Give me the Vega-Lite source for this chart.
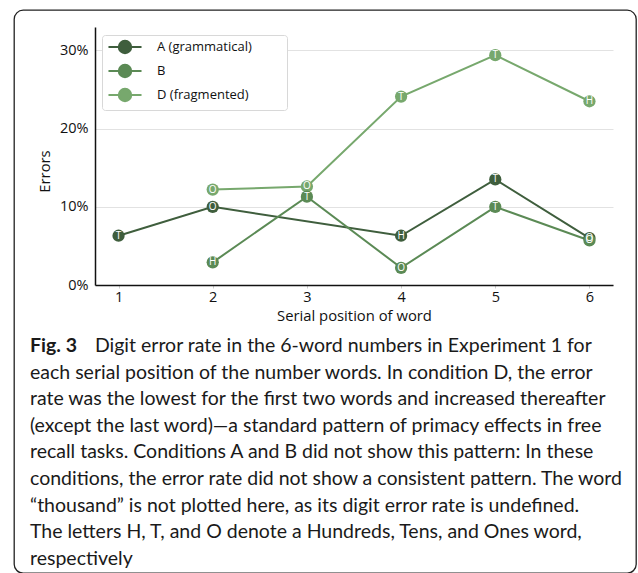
{
  "$schema": "https://vega.github.io/schema/vega-lite/v6.json",
  "autosize": {"type": "none"},
  "width": 622,
  "height": 563,
  "padding": {"left": 14, "top": 10, "right": 2, "bottom": 0},
  "background": "white",
  "config": {
    "view": {"stroke": "#222222", "strokeWidth": 1.3, "cornerRadius": 9},
    "font": "Open Sans"
  },
  "title": {
    "text": "Fig. 3",
    "subtitle": [
      "\u200c\u00a0\u00a0\u00a0\u00a0\u00a0\u00a0\u00a0\u00a0\u00a0\u00a0\u00a0\u00a0\u00a0Digit error rate in the 6-word numbers in Experiment 1 for",
      "each serial position of the number words. In condition D, the error",
      "rate was the lowest for the first two words and increased thereafter",
      "(except the last word)—a standard pattern of primacy effects in free",
      "recall tasks. Conditions A and B did not show this pattern: In these",
      "conditions, the error rate did not show a consistent pattern. The word",
      "“thousand” is not plotted here, as its digit error rate is undefined.",
      "The letters H, T, and O denote a Hundreds, Tens, and Ones word,",
      "respectively"
    ],
    "orient": "bottom",
    "anchor": "start",
    "frame": "group",
    "offset": -236,
    "dx": 16,
    "font": "Lato",
    "fontSize": 19.5,
    "fontWeight": "bold",
    "color": "#1a1a1a",
    "subtitleFont": "Lato",
    "subtitleFontSize": 19.5,
    "subtitleColor": "#1a1a1a",
    "subtitleLineHeight": 26.6,
    "subtitlePadding": -19.5
  },
  "data": {
    "values": [
      {"cond": "D (fragmented)", "pos": 2, "err": 0.122, "lab": "O"},
      {"cond": "D (fragmented)", "pos": 3, "err": 0.126, "lab": "O"},
      {"cond": "D (fragmented)", "pos": 4, "err": 0.241, "lab": "T"},
      {"cond": "D (fragmented)", "pos": 5, "err": 0.294, "lab": "T"},
      {"cond": "D (fragmented)", "pos": 6, "err": 0.235, "lab": "H"},
      {"cond": "A (grammatical)", "pos": 1, "err": 0.063, "lab": "T"},
      {"cond": "A (grammatical)", "pos": 2, "err": 0.100, "lab": "O"},
      {"cond": "A (grammatical)", "pos": 4, "err": 0.063, "lab": "H"},
      {"cond": "A (grammatical)", "pos": 5, "err": 0.135, "lab": "T"},
      {"cond": "A (grammatical)", "pos": 6, "err": 0.060, "lab": "O"},
      {"cond": "B", "pos": 2, "err": 0.029, "lab": "H"},
      {"cond": "B", "pos": 3, "err": 0.113, "lab": "T"},
      {"cond": "B", "pos": 4, "err": 0.022, "lab": "O"},
      {"cond": "B", "pos": 5, "err": 0.100, "lab": "T"},
      {"cond": "B", "pos": 6, "err": 0.057, "lab": "O"}
    ]
  },
  "encoding": {
    "x": {
      "field": "pos",
      "type": "quantitative",
      "scale": {"domain": [0.75, 6.25], "range": [81, 599], "nice": false, "zero": false},
      "axis": {
        "title": "Serial position of word",
        "values": [1, 2, 3, 4, 5, 6],
        "format": "d",
        "offset": -288,
        "grid": false,
        "domainColor": "#111111",
        "domainWidth": 1.5,
        "tickSize": 3,
        "tickColor": "#cccccc",
        "labelPadding": 2,
        "labelFontSize": 14.5,
        "labelColor": "#111111",
        "titleFontSize": 14.8,
        "titleFontWeight": "normal",
        "titleColor": "#111111",
        "titleY": 31,
        "titleBaseline": "middle"
      }
    },
    "y": {
      "field": "err",
      "type": "quantitative",
      "scale": {"domain": [0, 0.33], "range": [275, 17], "nice": false, "zero": false},
      "axis": {
        "title": "Errors",
        "values": [0, 0.1, 0.2, 0.3],
        "format": ".0%",
        "offset": -81,
        "domainColor": "#111111",
        "domainWidth": 1.5,
        "ticks": false,
        "labelPadding": 7,
        "labelFontSize": 14.5,
        "labelColor": "#111111",
        "grid": true,
        "gridColor": "#e2e2e2",
        "gridWidth": 1,
        "titleFontSize": 14.8,
        "titleFontWeight": "normal",
        "titleColor": "#111111",
        "titleX": -50,
        "titleY": 161,
        "titleAngle": -90,
        "titleAlign": "center",
        "titleBaseline": "middle"
      }
    },
    "color": {
      "field": "cond",
      "type": "nominal",
      "scale": {
        "domain": ["A (grammatical)", "B", "D (fragmented)"],
        "range": ["#3f5e3d", "#5b8a55", "#77a86d"]
      },
      "legend": {
        "title": "\u200c\u00a0\u00a0\u00a0\u00a0\u00a0\u00a0\u00a0\u00a0\u00a0\u200c",
        "titleOrient": "right",
        "titlePadding": 0,
        "titleFontSize": 13,
        "orient": "none",
        "legendX": 88,
        "legendY": 25,
        "strokeColor": "#d8d8d8",
        "fillColor": "white",
        "cornerRadius": 3,
        "padding": 4,
        "labelFont": "Open Sans",
        "labelFontSize": 13,
        "labelColor": "#111111",
        "symbolType": "M -2.36 0 L 2.36 0 M -0.89 0 A 0.89 0.89 0 1 1 0.89 0 A 0.89 0.89 0 1 1 -0.89 0 Z",
        "symbolSize": 196,
        "symbolOffset": 11,
        "symbolStrokeWidth": 2,
        "rowPadding": 2,
        "labelOffset": 24,
        "encode": {
          "symbols": {
            "update": {
              "fill": {"scale": "color", "field": "value"},
              "stroke": {"scale": "color", "field": "value"},
              "opacity": {"value": 1},
              "size": {"value": 196},
              "strokeWidth": {"value": 2}
            }
          }
        }
      }
    }
  },
  "layer": [
    {"mark": {"type": "line", "strokeWidth": 2}},
    {"mark": {"type": "circle", "size": 150, "opacity": 1}},
    {
      "mark": {"type": "text", "fontSize": 10, "font": "Open Sans", "align": "center", "baseline": "middle"},
      "encoding": {"text": {"field": "lab"}, "color": {"value": "white"}}
    }
  ]
}
